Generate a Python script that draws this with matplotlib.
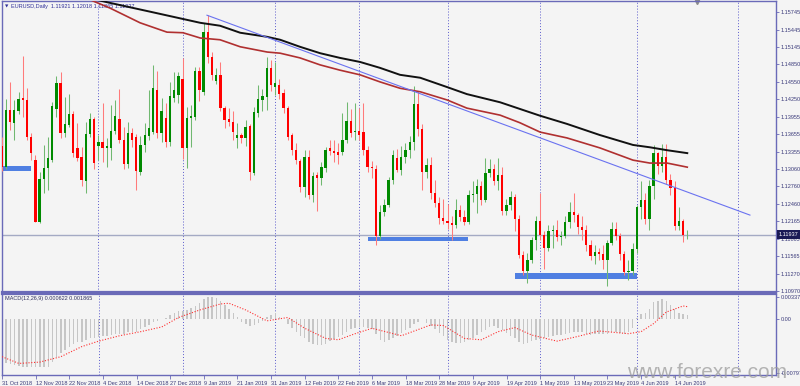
import matplotlib.pyplot as plt
import numpy as np

plt.rcParams['font.family'] = ['Liberation Sans', 'DejaVu Sans']

# EURUSD daily bars, 31 Oct 2018 .. 19 Jun 2019 (bar index 0..163)
opens = [
    1.1345, 1.1310, 1.1407, 1.1385, 1.1405, 1.1427, 1.1424, 1.1361, 1.1321, 1.1215,
    1.1288, 1.1308, 1.1321, 1.1408, 1.1453, 1.1367, 1.1381, 1.1400, 1.1342, 1.1326,
    1.1286, 1.1366, 1.1391, 1.1345, 1.1352, 1.1341, 1.1342, 1.1371, 1.1391, 1.1355,
    1.1314, 1.1367, 1.1361, 1.1301, 1.1347, 1.1362, 1.1369, 1.1441, 1.1367, 1.1393,
    1.1352, 1.1427, 1.1432, 1.1460, 1.1342, 1.1393, 1.1395, 1.1474, 1.1438, 1.1540,
    1.1497, 1.1456, 1.1467, 1.1410, 1.1391, 1.1386, 1.1359, 1.1364, 1.1359, 1.1379,
    1.1299, 1.1402, 1.1424, 1.1429, 1.1478, 1.1446, 1.1450, 1.1436, 1.1410, 1.1364,
    1.1338, 1.1320, 1.1275, 1.1326, 1.1262, 1.1295, 1.1291, 1.1308, 1.1342, 1.1337,
    1.1335, 1.1335, 1.1355, 1.1388, 1.1369, 1.1371, 1.1370, 1.1338, 1.1310, 1.1306,
    1.1192, 1.1233, 1.1245, 1.1287, 1.1325, 1.1304, 1.1326, 1.1339, 1.1352, 1.1417,
    1.1375, 1.1301, 1.1312, 1.1264, 1.1248, 1.1222, 1.1217, 1.1214, 1.1210, 1.1235,
    1.1223, 1.1216, 1.1262, 1.1263, 1.1277, 1.1253, 1.1299, 1.1305, 1.1285, 1.1296,
    1.1234, 1.1244, 1.1258, 1.1220, 1.1158, 1.1131, 1.1150, 1.1184, 1.1217, 1.1193,
    1.1171, 1.1200, 1.1202, 1.1189, 1.1191, 1.1215, 1.1233, 1.1227, 1.1207, 1.1202,
    1.1175, 1.1157, 1.1163, 1.1160, 1.1150, 1.1180, 1.1204, 1.1192, 1.1160, 1.1129,
    1.1132, 1.1169, 1.1240, 1.1253, 1.1221, 1.1276, 1.1333, 1.1311, 1.1327, 1.1287,
    1.1274, 1.1209, 1.1217, 1.11921]
highs = [
    1.1360, 1.1426, 1.1455, 1.1424, 1.1438, 1.1499, 1.1444, 1.1368, 1.1330, 1.1301,
    1.1347, 1.1361, 1.1420, 1.1465, 1.1472, 1.1429, 1.1434, 1.1405, 1.1385, 1.1343,
    1.1386, 1.1402, 1.1395, 1.1364, 1.1419, 1.1359, 1.1415, 1.1424, 1.1443, 1.1378,
    1.1386, 1.1376, 1.1366, 1.1362, 1.1385, 1.1441, 1.1484, 1.1474, 1.1427, 1.1419,
    1.1455, 1.1472, 1.1472, 1.1496, 1.1412, 1.1415, 1.1481, 1.1481, 1.1556, 1.1569,
    1.1506, 1.1479, 1.1489, 1.1413, 1.1410, 1.1405, 1.1385, 1.1368, 1.1390, 1.1383,
    1.1412, 1.1450, 1.1443, 1.1497, 1.1492, 1.1489, 1.1460, 1.1442, 1.1413, 1.1367,
    1.1350, 1.1323, 1.1338, 1.1339, 1.1300, 1.1300, 1.1318, 1.1343, 1.1356, 1.1355,
    1.1350, 1.1402, 1.1420, 1.1408, 1.1418, 1.1410, 1.1418, 1.1345, 1.1320, 1.1312,
    1.1245, 1.1254, 1.1292, 1.1339, 1.1340, 1.1345, 1.1350, 1.1362, 1.1448, 1.1439,
    1.1383, 1.1325, 1.1327, 1.1287, 1.1258, 1.1255, 1.1246, 1.1225, 1.1255, 1.1245,
    1.1236, 1.1270, 1.1285, 1.1288, 1.1285, 1.1324, 1.1323, 1.1315, 1.1324, 1.1310,
    1.1255, 1.1268, 1.1263, 1.1228, 1.1166, 1.1162, 1.1189, 1.1226, 1.1265, 1.1200,
    1.1210, 1.1210, 1.1218, 1.1200, 1.1225, 1.1250, 1.1264, 1.1230, 1.1225, 1.1210,
    1.1185, 1.1175, 1.1170, 1.1175, 1.1185, 1.1215, 1.1215, 1.1197, 1.1165, 1.1150,
    1.1180, 1.1245, 1.1285, 1.1265, 1.1287, 1.1347, 1.1335, 1.1348, 1.1348, 1.1298,
    1.1285, 1.1241, 1.1221, 1.12018]
lows = [
    1.1302, 1.1305, 1.1373, 1.1355, 1.1400, 1.1395, 1.1355, 1.1321, 1.1215, 1.1213,
    1.1265, 1.1270, 1.1318, 1.1395, 1.1359, 1.1360, 1.1378, 1.1326, 1.1320, 1.1277,
    1.1265, 1.1360, 1.1306, 1.1321, 1.1318, 1.1309, 1.1321, 1.1365, 1.1350, 1.1305,
    1.1308, 1.1343, 1.1270, 1.1295, 1.1335, 1.1355, 1.1365, 1.1359, 1.1352, 1.1343,
    1.1345, 1.1420, 1.1419, 1.1323, 1.1307, 1.1343, 1.1390, 1.1422, 1.1433, 1.1487,
    1.1458, 1.1451, 1.1405, 1.1376, 1.1379, 1.1355, 1.1342, 1.1350, 1.1345, 1.1287,
    1.1295, 1.1395, 1.1405, 1.1407, 1.1440, 1.1432, 1.1425, 1.1402, 1.1356, 1.1330,
    1.1315, 1.1266, 1.1258, 1.1255, 1.1249, 1.1234, 1.1279, 1.1300, 1.1330, 1.1318,
    1.1315, 1.1330, 1.1350, 1.1360, 1.1355, 1.1355, 1.1330, 1.1300, 1.1290, 1.1176,
    1.1186, 1.1225, 1.1240, 1.1280, 1.1300, 1.1295, 1.1316, 1.1325, 1.1338, 1.1363,
    1.1270, 1.1290, 1.1254, 1.1241, 1.1212, 1.1211, 1.1204, 1.1184, 1.1205, 1.1217,
    1.1210, 1.1212, 1.1250, 1.1230, 1.1245, 1.1250, 1.1293, 1.1279, 1.1270, 1.1227,
    1.1228, 1.1236, 1.1200, 1.1153, 1.1125, 1.1110, 1.1145, 1.1167, 1.1185, 1.1135,
    1.1165, 1.1171, 1.1182, 1.1175, 1.1188, 1.1205, 1.1215, 1.1195, 1.1185, 1.1165,
    1.1150, 1.1143, 1.1150, 1.1135, 1.1106, 1.1175, 1.1185, 1.1150, 1.1125, 1.1116,
    1.1125, 1.1162, 1.1220, 1.1211, 1.1202, 1.1255, 1.1298, 1.1300, 1.1280, 1.1262,
    1.1202, 1.1202, 1.1181, 1.11865]
closes = [
    1.1310, 1.1407, 1.1386, 1.1407, 1.1426, 1.1424, 1.1361, 1.1333, 1.1215, 1.1289,
    1.1308, 1.1325, 1.1414, 1.1453, 1.1367, 1.1383, 1.1400, 1.1333, 1.1325, 1.1287,
    1.1366, 1.1391, 1.1316, 1.1352, 1.1342, 1.1345, 1.1371, 1.1396, 1.1355, 1.1314,
    1.1367, 1.1355, 1.1302, 1.1347, 1.1364, 1.1376, 1.1444, 1.1367, 1.1405, 1.1352,
    1.1431, 1.1441, 1.1465, 1.1342, 1.1393, 1.1397, 1.1474, 1.1441, 1.1540, 1.1498,
    1.1467, 1.1467, 1.1410, 1.1390, 1.1386, 1.1369, 1.1364, 1.1359, 1.1378, 1.1301,
    1.1403, 1.1426, 1.1431, 1.1478, 1.1450, 1.1453, 1.1434, 1.1410, 1.1361, 1.1338,
    1.1321, 1.1275, 1.1326, 1.1261, 1.1294, 1.1291, 1.1309, 1.1338, 1.1337, 1.1333,
    1.1330, 1.1355, 1.1388, 1.1367, 1.1371, 1.1364, 1.1338, 1.1310, 1.1307, 1.1192,
    1.1233, 1.1245, 1.1287, 1.1330, 1.1304, 1.1326, 1.1339, 1.1352, 1.1417, 1.1375,
    1.1301, 1.1312, 1.1264, 1.1248, 1.1222, 1.1217, 1.1214, 1.1210, 1.1235, 1.1223,
    1.1216, 1.1262, 1.1263, 1.1277, 1.1253, 1.1299, 1.1305, 1.1285, 1.1296, 1.1234,
    1.1244, 1.1258, 1.1220, 1.1158, 1.1131, 1.1150, 1.1184, 1.1217, 1.1193, 1.1171,
    1.1200, 1.1202, 1.1189, 1.1191, 1.1215, 1.1233, 1.1227, 1.1207, 1.1202, 1.1175,
    1.1157, 1.1163, 1.1160, 1.1150, 1.1180, 1.1204, 1.1192, 1.1160, 1.1129, 1.1132,
    1.1169, 1.1240, 1.1253, 1.1221, 1.1276, 1.1333, 1.1311, 1.1327, 1.1287, 1.1274,
    1.1209, 1.1217, 1.1193, 1.11937]

# MACD(12,26,9) main line, in units of 1e-4
macd_main = [
    -62, -64, -66, -67, -69, -70, -70, -70, -71, -71,
    -71, -70, -63, -55, -50, -45, -40, -36, -34, -33,
    -31, -28, -28, -26, -25, -24, -23, -21, -21, -21,
    -19, -18, -18, -14, -11, -8, -3, -2, 1, 2,
    7, 10, 13, 12, 14, 17, 20, 24, 30, 33,
    33, 32, 28, 22, 16, 9, 3, -3, -6, -10,
    -8, -5, -2, 4, 7, 9, 4, 0, -6, -12,
    -18, -24, -28, -33, -36, -38, -38, -36, -32, -29,
    -26, -23, -18, -14, -12, -11, -11, -12, -14, -22,
    -30, -33, -31, -27, -24, -20, -16, -13, -6, -3,
    1, -5, -9, -14, -20, -25, -30, -33, -35, -35,
    -34, -31, -28, -23, -19, -15, -11, -10, -12, -16,
    -20, -24, -28, -33, -36, -35, -32, -30, -29, -28,
    -26, -24, -23, -23, -22, -20, -19, -18, -19, -21,
    -23, -22, -22, -22, -21, -19, -19, -20, -22, -18,
    -12, 2, 8, 10, 16, 26, 28, 30, 27, 22,
    15, 10, 8, 6]
signal_bars = [0, 4, 9, 14, 19, 23, 28, 33, 38, 42, 47, 52, 54, 58, 63, 68, 72, 77, 80,
               84, 88, 95, 102, 105, 110, 114, 118, 122, 126, 132, 137, 142, 149, 152,
               155, 158, 162, 163]
signal_vals = [-55, -65, -63, -55, -40, -32, -24, -18, -11, 3, 14, 23, 24, 14, -2, 3, -13,
               -28, -30, -21, -13, -24, -8, -9, -28, -30, -18, -12, -23, -32, -25, -17,
               -21, -18, -6, 11, 20, 19]

# moving averages (at these bars)
ma_black_bars = [18.6, 25.8, 35.3, 47.2, 51.9, 56.7, 63.1, 66.2, 70.9, 75.7, 80.4, 85.2,
                 89.9, 94.7, 99.5, 105.9, 110.6, 118.5, 128, 134.4, 142.2, 150.1, 154.1,
                 158.2, 163]
ma_black_vals = [1.1602, 1.1590, 1.1575, 1.1556, 1.1551, 1.1539, 1.1532, 1.1527, 1.1515,
                 1.1504, 1.1496, 1.1489, 1.1479, 1.1467, 1.1462, 1.1446, 1.1434, 1.1420,
                 1.1397, 1.1383, 1.1364, 1.1347, 1.1343, 1.1338, 1.1333]
ma_red_bars = [19.5, 25.8, 32.9, 39.3, 43.1, 47.2, 51.9, 56.7, 63.1, 66.2, 70.9, 75.7,
               80.4, 85.2, 89.9, 94.7, 99.5, 105.9, 110.6, 118.5, 123.2, 128, 134.4, 142.2,
               150.1, 154.1, 158.2, 163]
ma_red_vals = [1.1600, 1.1581, 1.1556, 1.1540, 1.1539, 1.1530, 1.1527, 1.1515, 1.1506,
               1.1504, 1.1496, 1.1484, 1.1475, 1.1467, 1.1455, 1.1444, 1.1438, 1.1424,
               1.1410, 1.1398, 1.1385, 1.1369, 1.1359, 1.1342, 1.1321, 1.1316, 1.1316,
               1.1309]

trend_bars = [48.8, 177.9]
trend_vals = [1.1569, 1.1227]

# support zones: (bar from, bar to, price low, price high)
zones = [(0, 7, 1.1302, 1.1311), (87.2, 110.9, 1.1183, 1.1190), (122, 151, 1.1118, 1.1128)]

price_ticks = [1.15745, 1.15445, 1.15145, 1.14850, 1.14550, 1.14250, 1.13955, 1.13655,
               1.13355, 1.13060, 1.12760, 1.12460, 1.12165, 1.11865, 1.11565, 1.11270,
               1.10970]
last_price = 1.11937
grid_bars = [23, 43, 65, 85, 106, 128, 151, 175]
date_bars = list(range(0, 161, 8))
date_labels = ['31 Oct 2018', '12 Nov 2018', '22 Nov 2018', '4 Dec 2018', '14 Dec 2018',
               '27 Dec 2018', '9 Jan 2019', '21 Jan 2019', '31 Jan 2019', '12 Feb 2019',
               '22 Feb 2019', '6 Mar 2019', '18 Mar 2019', '28 Mar 2019', '9 Apr 2019',
               '19 Apr 2019', '1 May 2019', '13 May 2019', '23 May 2019', '4 Jun 2019',
               '14 Jun 2019']

bg = '#f4f4f4'
frame = '#6a6ab8'
txt = '#3a3a7a'
fs = 4.0
W, H = 800, 386

o = np.array(opens)
h = np.array(highs)
l = np.array(lows)
c = np.array(closes)
idx = np.arange(len(o))
up = c >= o

fig = plt.figure(figsize=(8, 3.86), dpi=100, facecolor=bg)
ax = fig.add_axes([2 / W, 1 - 292 / H, 774 / W, 291 / H], facecolor=bg)
ax2 = fig.add_axes([2 / W, 1 - 375 / H, 774 / W, 81 / H], facecolor=bg)

xlim = ((2 - 1.7) / 4.206, (776 - 1.7) / 4.206)

for g in grid_bars:
    ax.axvline(g, color='#5a5acc', lw=0.7, ls=(0, (1, 2)), zorder=0)
    ax2.axvline(g, color='#5a5acc', lw=0.7, ls=(0, (1, 2)), zorder=0)

ax.axhline(last_price, color='#a4aac4', lw=1.0, zorder=1)

for b0, b1, p0, p1 in zones:
    ax.fill_between([b0, b1], p0, p1, color='#4f7fe2', lw=0, zorder=2)

ax.vlines(idx[up], l[up], h[up], color='#70b870', lw=0.75, zorder=3)
ax.vlines(idx[~up], l[~up], h[~up], color='#ff7a7a', lw=0.75, zorder=3)
body = np.maximum(np.abs(c - o), 0.00005)
ax.bar(idx[up], body[up], bottom=np.minimum(o, c)[up], width=0.55, color='#008a00', lw=0, zorder=4)
ax.bar(idx[~up], body[~up], bottom=np.minimum(o, c)[~up], width=0.55, color='#ff0000', lw=0, zorder=4)

ax.plot(ma_black_bars, ma_black_vals, color='#111111', lw=1.4, zorder=5)
ax.plot(ma_red_bars, ma_red_vals, color='#b03030', lw=1.2, zorder=5)
ax.plot(trend_bars, trend_vals, color='#6a72f0', lw=0.8, zorder=5)

ax.set_xlim(*xlim)
ax.set_ylim(1.10954, 1.15933)
ax.yaxis.tick_right()
ax.set_yticks(price_ticks)
ax.set_yticklabels(['%.5f' % p for p in price_ticks])
ax.tick_params(axis='y', length=2, width=0.6, color=frame, labelsize=fs, labelcolor=txt, pad=1.5)
ax.set_xticks([])
for s in ax.spines.values():
    s.set_color(frame)
    s.set_linewidth(1.0)
ax.spines['bottom'].set_linewidth(1.6)

ax.text(1.003, last_price, '%.5f' % last_price, transform=ax.get_yaxis_transform(),
        fontsize=fs, color='white', va='center', ha='left',
        bbox=dict(boxstyle='square,pad=0.3', fc='#1a1a55', ec='none'), zorder=10, clip_on=False)
ax.text(0.004, 0.982, '\u25bc', transform=ax.transAxes, fontsize=3.2, color='#30309a',
        va='center', family='DejaVu Sans')
ax.text(0.0115, 0.982, 'EURUSD,Daily  1.11921 1.12018 1.11865 1.11937', transform=ax.transAxes,
        fontsize=fs, color='#30309a', va='center')
ax.plot([0.898], [0.997], marker='v', ms=3, color='#8a8a8a', transform=ax.transAxes, clip_on=False)

# MACD panel
m = np.array(macd_main) * 1e-4
ax2.bar(idx, m, width=0.35, color='#c6c6c6', lw=0, zorder=2)
ax2.plot(signal_bars, np.array(signal_vals) * 1e-4, color='#ff3030', lw=0.8,
         ls=(0, (1, 1.5)), zorder=3)
ax2.set_xlim(*xlim)
ax2.set_ylim(-0.00821, 0.00377)
ax2.yaxis.tick_right()
ax2.set_yticks([0.003373, 0.0, -0.00797])
ax2.set_yticklabels(['0.003373', '0.00', '-0.00797'])
ax2.tick_params(axis='y', length=2, width=0.6, color=frame, labelsize=fs, labelcolor=txt, pad=1.5)
ax2.set_xticks(date_bars)
ax2.set_xticklabels(date_labels, ha='left')
ax2.tick_params(axis='x', length=3, width=0.6, color=frame, labelsize=fs, labelcolor=txt, pad=1.5)
for s in ax2.spines.values():
    s.set_color(frame)
    s.set_linewidth(1.0)
ax2.spines['top'].set_linewidth(1.6)
ax2.text(0.004, 0.95, 'MACD(12,26,9) 0.000622 0.001865', transform=ax2.transAxes,
         fontsize=fs, color='#303060', va='center')

fig.text(707 / W, 1 - 373 / H, 'www.forexre.com', fontsize=15, color='#9c9c9c', alpha=0.75,
         ha='center', va='center')

fig.savefig('out.png', dpi=100, facecolor=bg)
